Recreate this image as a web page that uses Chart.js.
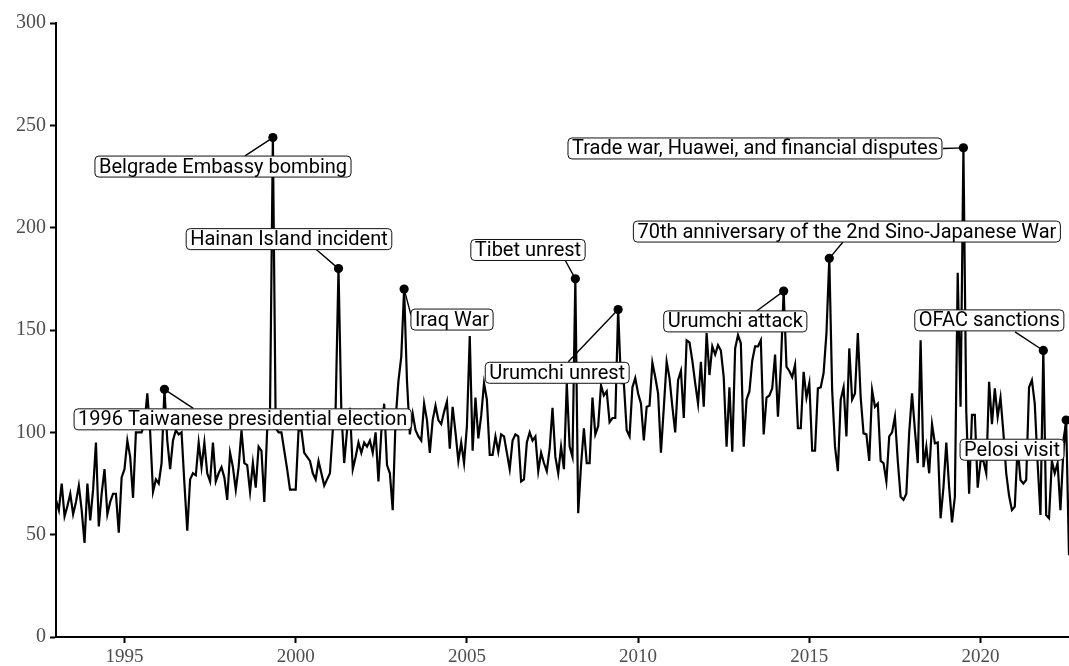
<!DOCTYPE html>
<html>
<head>
<meta charset="utf-8">
<script src="https://cdn.jsdelivr.net/npm/chart.js@4.4.1/dist/chart.umd.min.js"></script>
<style>
html,body{margin:0;padding:0;background:#fff;}
canvas{display:block;}
</style>
</head>
<body>
<canvas id="c" width="1069" height="666"></canvas>
<script>
// ---- data (monthly series starting January 1993) ----
const startYear = 1993;
const mentions = [
  67, 62, 75, 59, 64, 70, 60, 66, 74, 62,
  46, 75, 57, 72, 95, 54, 70, 82, 60, 66,
  70, 70, 51, 78, 82, 96, 88, 68, 100, 100,
  100, 104, 119, 100, 71, 77, 75, 85, 121, 96,
  82, 96, 101, 99, 100, 75, 52, 77, 80, 79,
  95, 83, 95, 80, 76, 95, 76, 80, 83, 78,
  67, 90, 83, 72, 83, 101, 85, 84, 71, 85,
  73, 93, 91, 66, 101, 110, 244, 102, 100, 100,
  91, 82, 72, 72, 72, 101, 101, 90, 88, 86,
  80, 77, 86, 80, 74, 77, 80, 101, 112, 180,
  110, 85, 101, 112, 82, 88, 95, 90, 95, 93,
  96, 90, 100, 76, 100, 114, 84, 80, 62, 106,
  125, 137, 170, 125, 99, 109, 101, 98, 96, 114,
  106, 90, 106, 113, 106, 104, 110, 115, 92, 112.5,
  100, 86, 95, 85, 103, 147, 91, 117, 97, 108,
  124, 116, 89, 89, 98, 90.5, 99, 98, 90, 82,
  96, 99, 98, 76, 77, 95, 100, 96, 98, 81,
  90, 85, 81, 92, 112, 88, 80, 93, 82, 124,
  93, 88, 175, 60.5, 84, 102, 85, 85, 117, 99,
  103, 123, 118, 120, 105, 107, 107, 160, 124, 124,
  101, 98, 122, 126.5, 119, 114, 96, 112.5, 113, 134,
  127, 119, 90, 112, 134.5, 126.5, 112.5, 100, 125.5, 130,
  107, 145, 144, 135, 124, 114, 134.5, 112.5, 148.5, 128,
  142, 138, 142.6, 140, 127, 93, 122, 90.5, 141, 147.5,
  143.5, 93, 116, 120, 135, 142, 142, 145, 99, 117,
  118, 121.5, 138, 107.6, 132, 169, 132, 130, 127, 133,
  102, 102, 129.6, 117, 124, 91, 91, 121.5, 122, 129,
  148.5, 185, 120.6, 93, 81, 116, 122, 98, 141, 116,
  119, 148.5, 117, 99.5, 99, 86, 120.6, 112.5, 114, 86,
  85, 76, 98, 100, 107.6, 86, 68.5, 67, 70, 100,
  119, 101, 85, 145, 83, 93, 80, 104, 94.6, 95,
  58, 73, 95, 73, 56, 68.5, 178, 112.5, 239, 110,
  70, 108.5, 108.5, 73, 86, 86, 80, 124.7, 104, 121.5,
  107.6, 117, 100, 80, 69, 62, 63.7, 93, 76.7, 75,
  76.7, 122, 125.5, 114, 85, 59.6, 140, 59.6, 58, 86,
  80, 85, 62, 90, 106, 40
];

// annotated events
const eventNames = [
  '1996 Taiwanese presidential election',
  'Belgrade Embassy bombing',
  'Hainan Island incident',
  'Iraq War',
  'Tibet unrest',
  'Urumchi unrest',
  'Urumchi attack',
  '70th anniversary of the 2nd Sino-Japanese War',
  'Trade war, Huawei, and financial disputes',
  'OFAC sanctions',
  'Pelosi visit'
];
const eventMonth = [38, 76, 99, 122, 182, 197, 255, 271, 318, 346, 354];

// label placement (in data units: year, value)
const labelX = [1998.452, 1997.877, 1999.804, 2004.565, 2006.784, 2007.637, 2012.838, 2016.097, 2013.413, 2020.256, 2020.919];
const labelY = [106.35, 229.85, 194.4, 155.1, 189.1, 129.1, 154.2, 198.1, 238.7, 154.7, 91.5];
// where each connector meets its label (data units)
const segEndX = [1997.010, 1998.520, 2000.600, 2003.367, 2007.865, 2007.961, 2013.462, 2015.983, 2018.903, 2021.006, 2022.408];
const segEndY = [111.7, 235.1, 189.3, 157.3, 184.2, 134.5, 159.3, 193.0, 238.7, 149.1, 96.2];

const xTicks = [1995, 2000, 2005, 2010, 2015, 2020];
const yTicks = [0, 50, 100, 150, 200, 250, 300];

// ---- build chart ----
const monthX = i => startYear + i / 12;
const lineData = mentions.map((v, i) => ({x: monthX(i), y: v}));
const dotData = eventMonth.map(m => ({x: monthX(m), y: mentions[m]}));

const LABEL_FONT = 'Roboto, "Noto Sans", "DejaVu Sans", sans-serif';
const TICK_FONT = '"Liberation Serif", "DejaVu Serif", serif';

function roundRectPath(ctx, x, y, w, h, r) {
  ctx.beginPath();
  ctx.moveTo(x + r, y);
  ctx.lineTo(x + w - r, y);
  ctx.arcTo(x + w, y, x + w, y + r, r);
  ctx.lineTo(x + w, y + h - r);
  ctx.arcTo(x + w, y + h, x + w - r, y + h, r);
  ctx.lineTo(x + r, y + h);
  ctx.arcTo(x, y + h, x, y + h - r, r);
  ctx.lineTo(x, y + r);
  ctx.arcTo(x, y, x + r, y, r);
  ctx.closePath();
}

const labelPlugin = {
  id: 'eventLabels',
  afterDatasetsDraw(chart) {
    const ctx = chart.ctx;
    const xs = chart.scales.x, ys = chart.scales.y;
    ctx.save();
    // calibrate label font so the longest label fills its box like the original
    ctx.font = '100px ' + LABEL_FONT;
    const refW = ctx.measureText(eventNames[7]).width;
    const size = 100 * 419 / refW;
    ctx.font = size.toFixed(2) + 'px ' + LABEL_FONT;

    // connectors
    ctx.strokeStyle = '#000';
    ctx.lineWidth = 1.4;
    eventNames.forEach((n, k) => {
      const px = xs.getPixelForValue(monthX(eventMonth[k]));
      const py = ys.getPixelForValue(mentions[eventMonth[k]]);
      const ex = xs.getPixelForValue(segEndX[k]);
      const ey = ys.getPixelForValue(segEndY[k]);
      ctx.beginPath();
      ctx.moveTo(px, py);
      ctx.lineTo(ex, ey);
      ctx.stroke();
    });

    // label boxes
    eventNames.forEach((n, k) => {
      const cx = xs.getPixelForValue(labelX[k]);
      const cy = ys.getPixelForValue(labelY[k]);
      const tw = ctx.measureText(n).width;
      const w = tw + 8, h = 21;
      roundRectPath(ctx, cx - w / 2, cy - h / 2, w, h, 4);
      ctx.fillStyle = '#fff';
      ctx.fill();
      ctx.lineWidth = 1;
      ctx.strokeStyle = '#111';
      ctx.stroke();
      ctx.fillStyle = '#000';
      ctx.textAlign = 'center';
      ctx.textBaseline = 'middle';
      ctx.fillText(n, cx, cy + 1);
    });
    ctx.restore();
  }
};

new Chart(document.getElementById('c'), {
  type: 'line',
  data: {
    datasets: [
      {
        type: 'scatter',
        data: dotData,
        pointRadius: 4.6,
        pointHoverRadius: 4.6,
        backgroundColor: '#000',
        borderWidth: 0,
        showLine: false
      },
      {
        type: 'line',
        data: lineData,
        borderColor: '#000',
        borderWidth: 2.2,
        pointRadius: 0,
        tension: 0,
        fill: false
      }
    ]
  },
  options: {
    responsive: false,
    animation: false,
    events: [],
    layout: {autoPadding: false, padding: {top: 23, right: 0, bottom: 0, left: 0}},
    plugins: {legend: {display: false}, tooltip: {enabled: false}},
    scales: {
      x: {
        type: 'linear',
        min: startYear,
        max: monthX(mentions.length - 1),
        afterBuildTicks: s => { s.ticks = xTicks.map(v => ({value: v})); },
        afterFit: s => { s.height = 29; },
        grid: {display: true, drawOnChartArea: false, drawTicks: true, tickLength: 6, tickColor: '#000', tickWidth: 2},
        border: {display: true, color: '#000', width: 2},
        ticks: {
          padding: 3,
          maxRotation: 0,
          autoSkip: false,
          color: '#4d4d4d',
          font: {family: TICK_FONT, size: 19},
          callback: v => String(v)
        }
      },
      y: {
        type: 'linear',
        min: 0,
        max: 300,
        afterBuildTicks: s => { s.ticks = yTicks.map(v => ({value: v})); },
        afterFit: s => { s.width = 56; },
        grid: {display: true, drawOnChartArea: false, drawTicks: true, tickLength: 6, tickColor: '#000', tickWidth: 2},
        border: {display: true, color: '#000', width: 2},
        ticks: {
          padding: 4,
          color: '#4d4d4d',
          font: {family: TICK_FONT, size: 20},
          callback: v => String(v)
        }
      }
    }
  },
  plugins: [labelPlugin]
});
</script>
</body>
</html>
